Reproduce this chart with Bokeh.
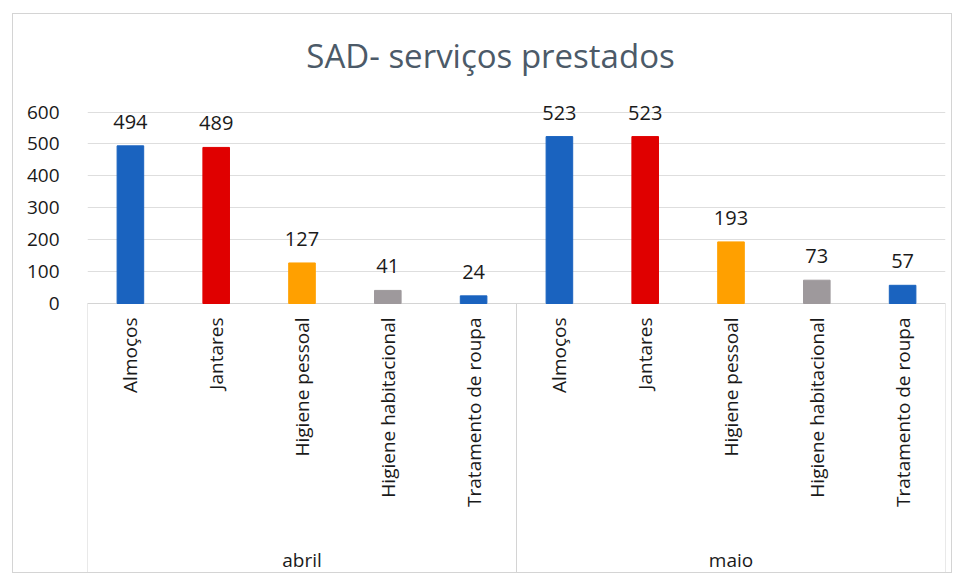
import math
from bokeh.plotting import figure
from bokeh.models import FixedTicker, ColumnDataSource, Range1d
from bokeh.core.properties import value
from bokeh.embed import file_html
from bokeh.resources import INLINE

# ---- data ----
chart_title = "SAD- serviços prestados"
months = ["abril", "maio"]
services = ["Almoços", "Jantares", "Higiene pessoal", "Higiene habitacional", "Tratamento de roupa"]
abril_values = [494, 489, 127, 41, 24]
maio_values = [523, 523, 193, 73, 57]
service_colors = ["#1A63BF", "#E00000", "#FFA000", "#9E999C", "#1A63BF"]
y_ticks = [0, 100, 200, 300, 400, 500, 600]

FONT = "Open Sans"

# build flat table
xs, tops, labels, cats, cols = [], [], [], [], []
for mi, vals in enumerate([abril_values, maio_values]):
    for si, v in enumerate(vals):
        xs.append(mi * len(services) + si)
        tops.append(v)
        labels.append(str(v))
        cats.append(services[si])
        cols.append(service_colors[si])
src = ColumnDataSource(dict(x=xs, top=tops, label=labels, cat=cats, color=cols))

n = len(xs)
group_centers = [mi * len(services) + (len(services) - 1) / 2 for mi in range(len(months))]
bounds = [mi * len(services) - 0.5 for mi in range(len(months) + 1)]

Y_TOP, Y_BOTTOM = 905.5, -849.1
W, H = 940, 560
p = figure(width=W, height=H, output_backend="svg", toolbar_location=None,
           x_range=Range1d(-0.5, n - 0.5), y_range=Range1d(Y_BOTTOM, Y_TOP),
           min_border_left=74, min_border_right=8, min_border_top=0, min_border_bottom=0,
           styles={"border": "1px solid #d4d4d4", "margin-left": "12px", "margin-top": "13px"})

p.outline_line_color = None
p.xaxis.visible = False
p.xgrid.visible = False

ya = p.yaxis[0]
ya.ticker = FixedTicker(ticks=y_ticks)
ya.axis_line_color = None
ya.major_tick_line_color = None
ya.minor_tick_line_color = None
ya.major_label_standoff = 22
ya.major_label_text_font = FONT
ya.major_label_text_font_size = "19px"
ya.major_label_text_color = "#1a1a1a"

p.ygrid.ticker = FixedTicker(ticks=y_ticks)
p.ygrid.grid_line_color = "#dedede"
p.ygrid.grid_line_width = 1

# title (drawn inside the canvas, centred over the chart area)
p.text(x=[(n - 1) / 2], y=[Y_TOP], text=[chart_title], x_offset=-26, y_offset=41,
       text_align="center", text_baseline="middle",
       text_font=value(FONT), text_font_size="33px", text_color="#4C5A68")

# category box separators
p.segment(x0=bounds, x1=bounds, y0=[0] * len(bounds), y1=[Y_BOTTOM] * len(bounds),
          line_color="#d4d4d4", line_width=1)
p.segment(x0=[bounds[0]], x1=[bounds[-1]], y0=[0], y1=[0], line_color="#d4d4d4", line_width=1)

# bars
p.vbar(x="x", top="top", bottom=0, width=0.31, color="color", source=src)

# data labels
p.text(x="x", y="top", text="label", source=src, y_offset=-24,
       text_align="center", text_baseline="middle",
       text_font=value(FONT), text_font_size="20px", text_color="#1a1a1a")

# category labels (rotated)
p.text(x="x", y=0, text="cat", source=src, y_offset=14, angle=math.pi / 2,
       text_align="right", text_baseline="middle",
       text_font=value(FONT), text_font_size="19px", text_color="#1a1a1a")

# group labels
p.text(x=group_centers, y=[0] * len(months), text=months, y_offset=256,
       text_align="center", text_baseline="middle",
       text_font=value(FONT), text_font_size="19px", text_color="#1a1a1a")

open("out.html", "w").write(file_html(p, INLINE))
